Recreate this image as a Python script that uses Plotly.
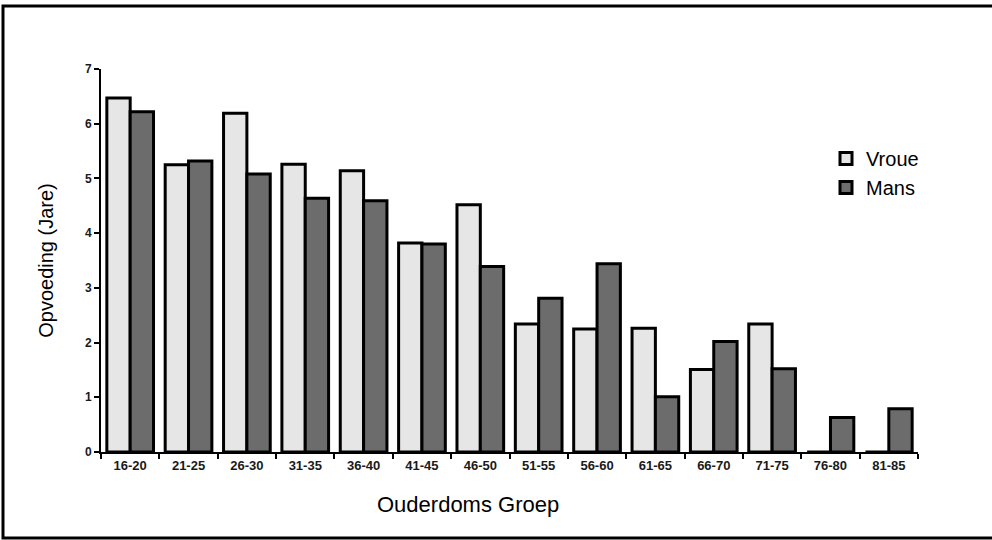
import plotly.graph_objects as go

categories = ["16-20", "21-25", "26-30", "31-35", "36-40", "41-45", "46-50",
              "51-55", "56-60", "61-65", "66-70", "71-75", "76-80", "81-85"]
vroue = [6.47, 5.25, 6.19, 5.26, 5.14, 3.82, 4.52, 2.34, 2.25, 2.26, 1.51, 2.34, 0, 0]
mans = [6.22, 5.32, 5.08, 4.64, 4.59, 3.80, 3.39, 2.81, 3.44, 1.01, 2.02, 1.52, 0.63, 0.79]

W, H = 992, 540
L, R, T, B = 101, 74, 69, 88
pw, ph = W - L - R, H - T - B

def px(x):
    return (x - L) / pw

def py(y):
    return (H - B - y) / ph

fig = go.Figure()
fig.add_trace(go.Bar(name="Vroue", x=categories, y=vroue,
                     marker=dict(color="#e6e6e6", line=dict(color="black", width=3))))
fig.add_trace(go.Bar(name="Mans", x=categories, y=mans,
                     marker=dict(color="#6c6c6c", line=dict(color="black", width=3))))

xtickfont = dict(size=13, family="Arial, Liberation Sans", color="#1a1a1a", weight="bold")
ytickfont = dict(size=12, family="Arial, Liberation Sans", color="#1a1a1a", weight="bold")

fig.update_layout(
    width=W, height=H,
    margin=dict(l=L, r=R, t=T, b=B),
    paper_bgcolor="white", plot_bgcolor="white",
    barmode="group", bargap=0.2, bargroupgap=0,
    font=dict(family="Arial, Liberation Sans, sans-serif", color="black"),
    showlegend=True,
    legend=dict(x=px(826), y=py(139), xanchor="left", yanchor="top",
                bgcolor="rgba(0,0,0,0)", font=dict(size=20, family="Arial, Liberation Sans"),
                itemwidth=30, tracegroupgap=0),
    xaxis=dict(
        showline=True, linecolor="black", linewidth=2,
        ticks="outside", ticklen=5, tickwidth=2, tickcolor="black",
        tickson="boundaries",
        tickfont=xtickfont,
        showgrid=False, zeroline=False,
        title=None,
    ),
    yaxis=dict(
        range=[0, 7], dtick=1,
        showline=True, linecolor="black", linewidth=2,
        ticks="outside", ticklen=5, tickwidth=2, tickcolor="black",
        tickfont=ytickfont,
        showgrid=False, zeroline=False,
        title=dict(text="Opvoeding (Jare)", font=dict(size=20, family="Arial, Liberation Sans"), standoff=26),
    ),
    annotations=[dict(text="Ouderdoms Groep", xref="paper", yref="paper",
                      x=px(468), y=py(505), xanchor="center", yanchor="middle",
                      showarrow=False, font=dict(size=22, family="Arial, Liberation Sans"))],
    shapes=[dict(type="rect", xref="paper", yref="paper",
                 x0=px(3), x1=px(1000), y0=py(538), y1=py(6),
                 line=dict(color="black", width=3), fillcolor="rgba(0,0,0,0)", layer="below")],
)

fig.write_html("out.html")
